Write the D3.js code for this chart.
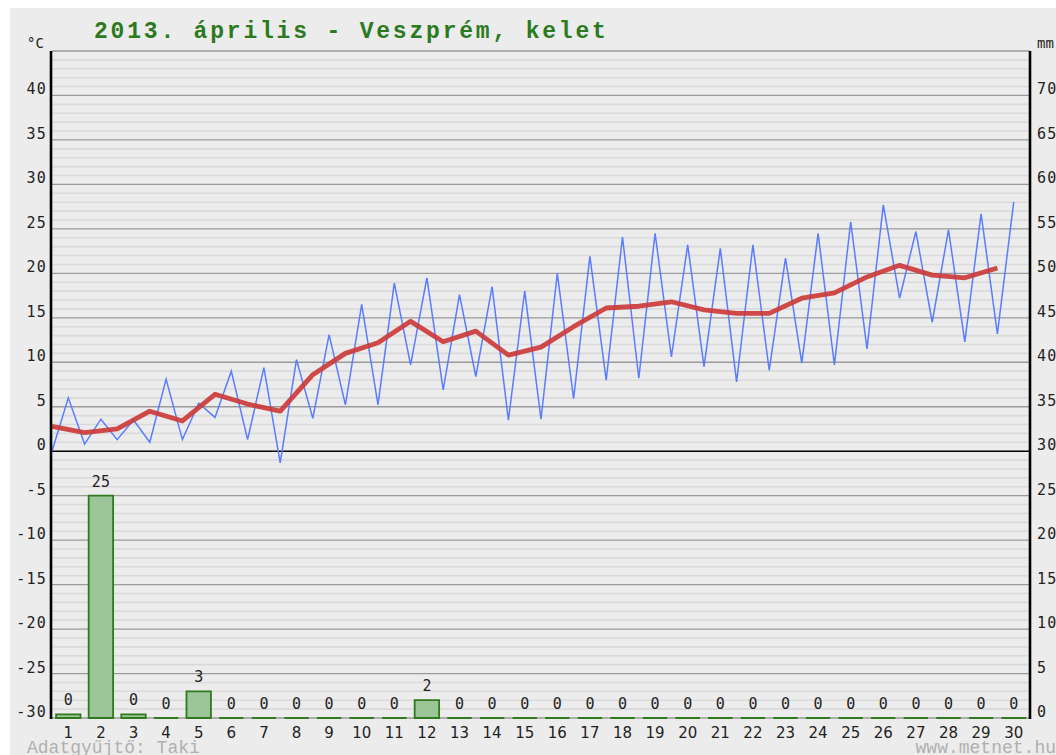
<!DOCTYPE html>
<html>
<head>
<meta charset="utf-8">
<script src="https://cdn.jsdelivr.net/npm/d3@7"></script>
<style>
  html, body { margin: 0; padding: 0; background: #ffffff; }
  svg { display: block; }
</style>
</head>
<body>
<svg id="chart" width="1056" height="755"></svg>
<script>
// Daily data, April 2013, Veszprém (kelet)
const days = d3.range(1, 31);
// daily minimum temperature (°C), plotted at the start of each day
const tempMin = [0.0, 0.8, 1.3, 1.0, 1.3, 3.8, 1.3, -1.3, 3.7, 5.2, 5.2, 9.7, 6.9, 8.4, 3.5,
                 3.6, 5.9, 8.0, 8.2, 10.6, 9.5, 7.8, 9.1, 9.9, 9.7, 11.5, 17.2, 14.5, 12.3, 13.2];
// daily maximum temperature (°C), plotted at the middle of each day
const tempMax = [6.0, 3.6, 3.5, 8.1, 5.4, 9.0, 9.4, 10.3, 13.1, 16.5, 18.9, 19.5, 17.6, 18.5, 18.0,
                 20.0, 21.9, 24.1, 24.5, 23.2, 22.8, 23.2, 21.7, 24.5, 25.8, 27.7, 24.7, 24.9, 26.7, 28.0];
// daily mean temperature (°C)
const tempMean = [2.8, 2.1, 2.5, 4.5, 3.4, 6.4, 5.3, 4.5, 8.6, 11.0, 12.2, 14.6, 12.3, 13.5, 10.8,
                  11.7, 14.0, 16.1, 16.3, 16.8, 15.9, 15.5, 15.5, 17.2, 17.8, 19.6, 20.9, 19.8, 19.5, 20.6];
// daily precipitation (mm)
const precip = [0.4, 25, 0.4, 0, 3, 0, 0, 0, 0, 0, 0, 2, 0, 0, 0,
                0, 0, 0, 0, 0, 0, 0, 0, 0, 0, 0, 0, 0, 0, 0];
const tempTicks = d3.range(-30, 41, 5);
const precipTicks = d3.range(0, 71, 5);
const titleText = "2013. április - Veszprém, kelet";

const svg = d3.select("#chart");
const plotLeft = 52, plotRight = 1030, plotTop = 51, plotBottom = 718;

const x = d3.scaleLinear().domain([0.5, 30.5]).range([plotLeft, plotRight]);
const yT = d3.scaleLinear().domain([-30, 45]).range([plotBottom, plotTop]);
const yP = d3.scaleLinear().domain([0, 75]).range([plotBottom, plotTop]);

// panel background
svg.append("rect").attr("x", 10).attr("y", 8).attr("width", 1046).attr("height", 747).attr("fill", "#ececec");

// minor grid every 1 °C
const g = svg.append("g");
g.selectAll("line.minor")
  .data(d3.range(-29, 45).filter(v => v % 5 !== 0))
  .join("line")
  .attr("class", "minor")
  .attr("x1", plotLeft).attr("x2", plotRight)
  .attr("y1", d => yT(d)).attr("y2", d => yT(d))
  .attr("stroke", "#dadada").attr("stroke-width", 1.6);

// major grid every 5 °C
g.selectAll("line.major")
  .data(d3.range(-30, 46, 5))
  .join("line")
  .attr("class", "major")
  .attr("x1", plotLeft).attr("x2", plotRight)
  .attr("y1", d => yT(d)).attr("y2", d => yT(d))
  .attr("stroke", d => d === 0 ? "#000" : "#9a9a9a")
  .attr("stroke-width", d => d === 0 ? 1.4 : 1.3);

// precipitation bars (as paths so that dry days still show their outline)
const barW = (x(2) - x(1)) * 0.75;
svg.append("g").selectAll("path")
  .data(days)
  .join("path")
  .attr("d", d => {
    const x0 = x(d) - barW / 2, y0 = yP(precip[d - 1]), y1 = yP(0);
    const p = d3.path();
    p.moveTo(x0, y1); p.lineTo(x0, y0); p.lineTo(x0 + barW, y0); p.lineTo(x0 + barW, y1); p.closePath();
    return p.toString();
  })
  .attr("fill", "#9dc59a")
  .attr("stroke", "#2f7a1c")
  .attr("stroke-width", 1.8);

// precipitation value labels
svg.append("g").selectAll("text")
  .data(days)
  .join("text")
  .attr("x", d => x(d))
  .attr("y", d => yP(precip[d - 1]) - 9)
  .attr("text-anchor", "middle")
  .attr("font-family", "DejaVu Sans Mono, monospace")
  .attr("font-size", 15)
  .attr("fill", "#222")
  .text(d => d3.format(".0f")(precip[d - 1]));

// min/max zigzag
const zig = [];
days.forEach((d, i) => {
  zig.push([d - 0.5, tempMin[i]]);
  zig.push([d, tempMax[i]]);
});
svg.append("path")
  .datum(zig)
  .attr("fill", "none")
  .attr("stroke", "#5a7cff")
  .attr("stroke-width", 1.5)
  .attr("stroke-linejoin", "miter")
  .attr("d", d3.line().x(p => x(p[0])).y(p => yT(p[1])));

// mean temperature
svg.append("path")
  .datum(days.map((d, i) => [d - 0.5, tempMean[i]]))
  .attr("fill", "none")
  .attr("stroke", "#cc3b3b")
  .attr("stroke-opacity", 0.92)
  .attr("stroke-width", 4.8)
  .attr("stroke-linejoin", "round")
  .attr("d", d3.line().x(p => x(p[0])).y(p => yT(p[1])));

// axis lines
svg.append("line").attr("x1", plotLeft - 1).attr("x2", plotLeft - 1).attr("y1", plotTop).attr("y2", plotBottom + 1)
  .attr("stroke", "#000").attr("stroke-width", 2.6);
svg.append("line").attr("x1", plotRight).attr("x2", plotRight).attr("y1", plotTop).attr("y2", plotBottom + 1)
  .attr("stroke", "#000").attr("stroke-width", 2.6);

// left temperature labels
const axisFont = "DejaVu Sans Mono, monospace";
svg.append("g").selectAll("text")
  .data(tempTicks)
  .join("text")
  .attr("x", 47)
  .attr("y", d => yT(d) - 1)
  .attr("text-anchor", "end")
  .attr("font-family", axisFont)
  .attr("font-size", 15)
  .attr("letter-spacing", 1.2)
  .attr("fill", "#222")
  .text(d => d);

// right precipitation labels
svg.append("g").selectAll("text")
  .data(precipTicks)
  .join("text")
  .attr("x", 1037)
  .attr("y", d => yP(d) - 1)
  .attr("font-family", axisFont)
  .attr("font-size", 15)
  .attr("letter-spacing", 1.2)
  .attr("fill", "#222")
  .text(d => d);

// unit labels
svg.append("text").attr("x", 27).attr("y", 48)
  .attr("font-family", axisFont).attr("font-size", 14).attr("fill", "#222").text("°C");
svg.append("text").attr("x", 1037).attr("y", 48)
  .attr("font-family", axisFont).attr("font-size", 14).attr("fill", "#222").text("mm");

// day labels
svg.append("g").selectAll("text")
  .data(days)
  .join("text")
  .attr("x", d => x(d))
  .attr("y", 738)
  .attr("text-anchor", "middle")
  .attr("font-family", "DejaVu Sans, sans-serif")
  .attr("font-size", 15)
  .attr("fill", "#222")
  .text(d => d);

// title
svg.append("text")
  .attr("x", 94).attr("y", 38)
  .attr("font-family", "Liberation Mono, Courier New, monospace")
  .attr("font-weight", "bold")
  .attr("font-size", 23)
  .attr("letter-spacing", 2.8)
  .attr("fill", "#2b7a1e")
  .text(titleText);

// footer credits
svg.append("text")
  .attr("x", 27).attr("y", 753)
  .attr("font-family", "Liberation Mono, Courier New, monospace")
  .attr("font-size", 18)
  .attr("fill", "#b0b0b0")
  .text("Adatgyűjtő: Taki");
svg.append("text")
  .attr("x", 1056).attr("y", 753)
  .attr("text-anchor", "end")
  .attr("font-family", "Liberation Mono, Courier New, monospace")
  .attr("font-size", 18)
  .attr("fill", "#b0b0b0")
  .text("www.metnet.hu");
</script>
</body>
</html>
